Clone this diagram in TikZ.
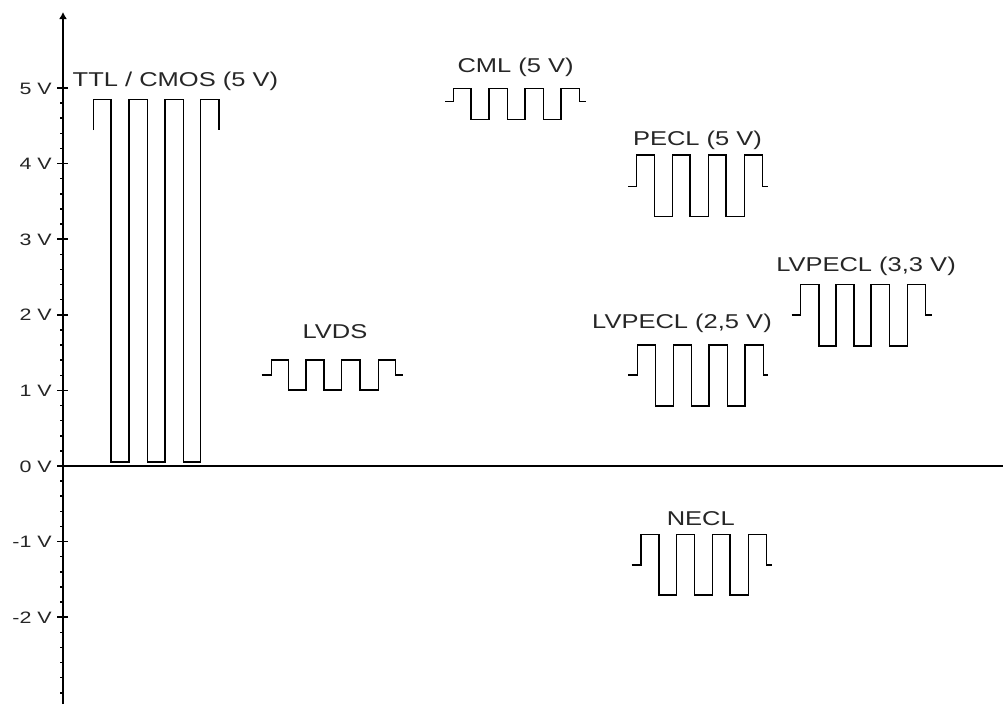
\documentclass[tikz,border=0pt]{standalone}
\usepackage{fontspec}
\setmainfont{Liberation Sans}
\usetikzlibrary{arrows.meta}
\begin{document}
\begin{tikzpicture}[x=1pt,y=-1pt,
  wave/.style={line width=1.4pt,black,line join=miter},
  axis/.style={line width=1.8pt,black},
  lbl/.style={anchor=base,inner sep=0pt,xscale=1.275,font=\fontsize{20}{24}\selectfont,text=black!85},
  vlbl/.style={anchor=base east,inner sep=0pt,xscale=1.3,font=\fontsize{16.5}{20}\selectfont,text=black!85}]
\useasboundingbox[fill=white] (0,0) rectangle (1003,704);
% axes
\coordinate (ytop) at (63,12);
\coordinate (ybot) at (63,704);
\coordinate (xl) at (58,466);
\coordinate (xr) at (1003,466);
\draw[axis,-{Latex[length=7pt,width=8pt]}] (ybot) -- (ytop);
\draw[line width=1.5pt] (xl) -- (xr);
% minor ticks
\foreach \v in {4.8,4.6,...,-3.1} {
  \draw[line width=1.5pt] (60,466-75.6*\v) -- (63,466-75.6*\v);
}
% major ticks and labels
\foreach \v/\t in {5/5 V,4/4 V,3/3 V,2/2 V,1/1 V,0/0 V,-1/-1 V,-2/-2 V} {
  \draw[line width=1.5pt] (57,466-75.6*\v) -- (68,466-75.6*\v);
  \node[vlbl] (l\v) at (52,472-75.6*\v) {\t};
}
% TTL / CMOS
\node[lbl] (ttl) at (175.4,86) {TTL / CMOS (5 V)};
\draw[wave] (93.5,130) -- (93.5,99.5) -- (111,99.5) -- (111,462) -- (129,462) -- (129,99.5) -- (147.5,99.5) -- (147.5,462) -- (165,462) -- (165,99.5) -- (183.3,99.5) -- (183.3,462) -- (200.7,462) -- (200.7,99.5) -- (219,99.5) -- (219,130);
% LVDS
\node[lbl] (lvds) at (335,338) {LVDS};
\draw[wave] (261.7,375) -- (271.7,375) -- (271.7,360) -- (288.3,360) -- (288.3,390) -- (306,390) -- (306,360) -- (324,360) -- (324,390) -- (341.7,390) -- (341.7,360) -- (360,360) -- (360,390) -- (378.3,390) -- (378.3,360) -- (395.7,360) -- (395.7,375) -- (403.3,375);
% CML
\node[lbl] (cml) at (515.6,72) {CML (5 V)};
\draw[wave] (445,101.7) -- (453.3,101.7) -- (453.3,88.3) -- (471,88.3) -- (471,119.3) -- (489,119.3) -- (489,88.3) -- (507.3,88.3) -- (507.3,119.3) -- (525,119.3) -- (525,88.3) -- (543.3,88.3) -- (543.3,119.3) -- (561,119.3) -- (561,88.3) -- (579.3,88.3) -- (579.3,101.7) -- (586,101.7);
% PECL
\node[lbl] (pecl) at (697.5,145) {PECL (5 V)};
\draw[wave] (628.3,186.7) -- (636.7,186.7) -- (636.7,155) -- (654.3,155) -- (654.3,216.7) -- (672.3,216.7) -- (672.3,155) -- (690,155) -- (690,216.7) -- (708.3,216.7) -- (708.3,155) -- (726,155) -- (726,216.7) -- (744.3,216.7) -- (744.3,155) -- (762.3,155) -- (762.3,186.7) -- (768.3,186.7);
% LVPECL 2,5
\node[lbl] (lvpa) at (682,328) {LVPECL (2,5 V)};
\draw[wave] (628.3,375) -- (637.3,375) -- (637.3,345) -- (655.7,345) -- (655.7,406) -- (673.3,406) -- (673.3,345) -- (691.7,345) -- (691.7,406) -- (709,406) -- (709,345) -- (727.3,345) -- (727.3,406) -- (745,406) -- (745,345) -- (763.3,345) -- (763.3,375) -- (768.3,375);
% LVPECL 3,3
\node[lbl] (lvpb) at (866,271) {LVPECL (3,3 V)};
\draw[wave] (791.7,315) -- (800.7,315) -- (800.7,284.3) -- (819,284.3) -- (819,346) -- (836,346) -- (836,284.3) -- (854,284.3) -- (854,346) -- (871,346) -- (871,284.3) -- (889.3,284.3) -- (889.3,346) -- (907.3,346) -- (907.3,284.3) -- (925.7,284.3) -- (925.7,315) -- (931.7,315);
% NECL
\node[lbl] (necl) at (700.8,525.7) {NECL};
\draw[wave] (631.7,565) -- (641,565) -- (641,534.3) -- (659,534.3) -- (659,595) -- (676.7,595) -- (676.7,534.3) -- (694.3,534.3) -- (694.3,595) -- (712.3,595) -- (712.3,534.3) -- (730,534.3) -- (730,595) -- (748.3,595) -- (748.3,534.3) -- (766.7,534.3) -- (766.7,565) -- (772.3,565);
\end{tikzpicture}
\end{document}
